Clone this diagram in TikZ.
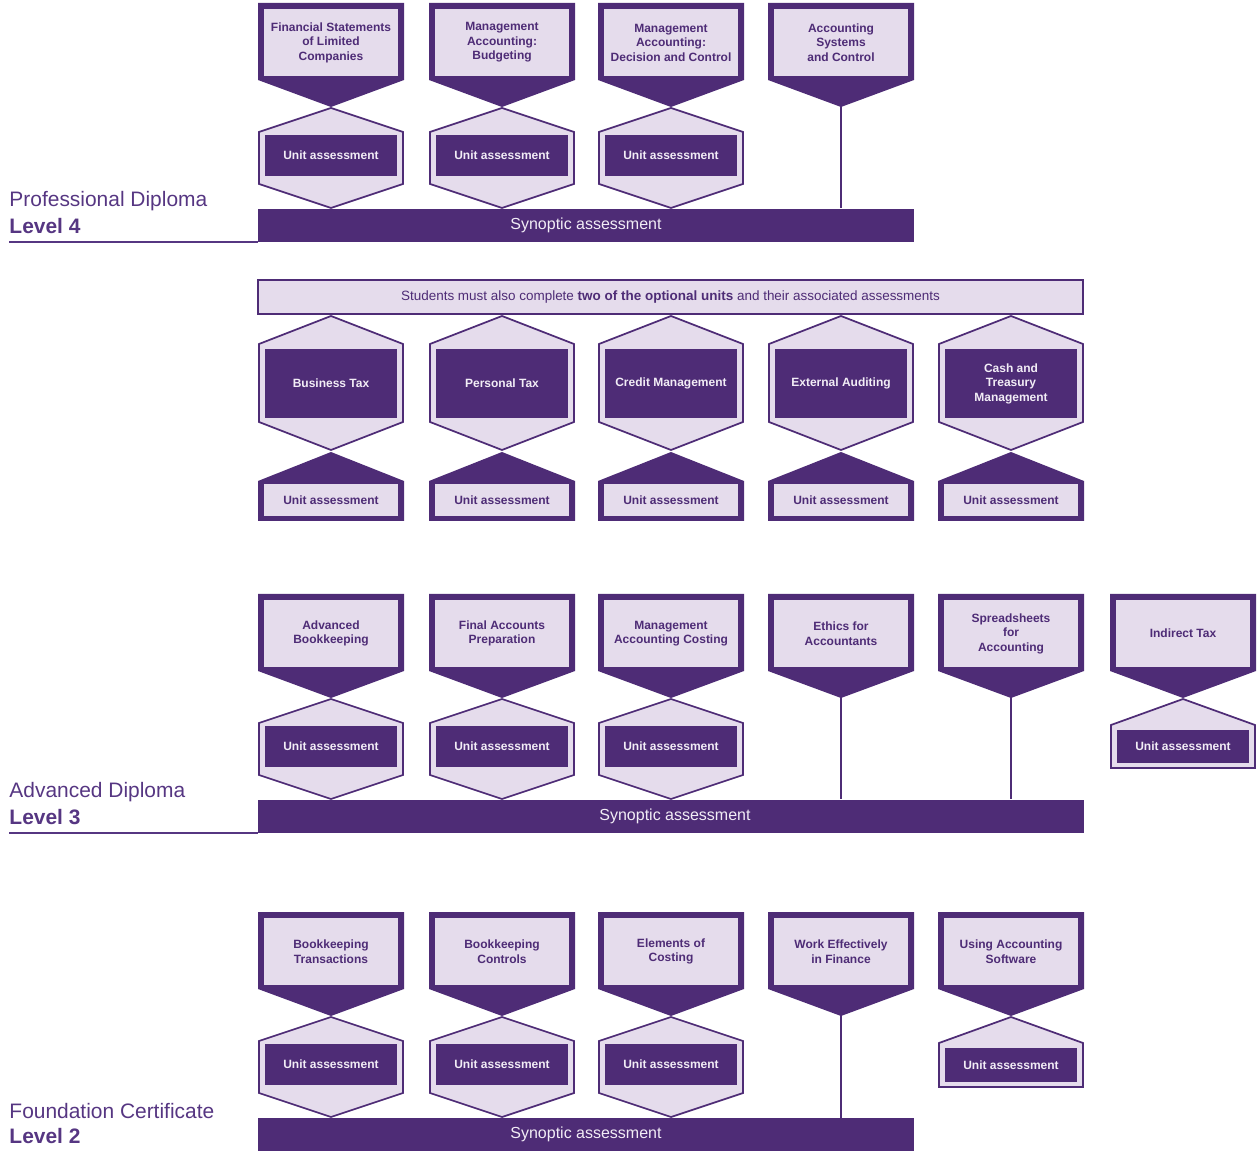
\documentclass[tikz,border=0pt]{standalone}
\usepackage{fontspec}
\setmainfont{Liberation Sans}

\definecolor{aatdark}{RGB}{78,44,118}
\definecolor{aatlight}{RGB}{229,220,236}
\definecolor{aattext}{RGB}{242,237,246}
\definecolor{aatlabel}{RGB}{86,54,130}

\tikzset{every picture/.style={line width=0.75pt},
  boxframe/.style={fill=aatdark, draw=none},
  hexframe/.style={fill=aatlight, draw=aatdark, line width=1.3pt, line join=miter},
  lightbox/.style={fill=aatlight, draw=none, inner sep=0pt, minimum width=100.5pt, minimum height=50.25pt, align=center, text=aatdark, font=\fontsize{9}{10.9}\selectfont\bfseries},
  darkbox/.style={fill=aatdark, draw=none, inner sep=0pt, minimum width=99pt, minimum height=30.75pt, align=center, text=aattext, font=\fontsize{9}{10.9}\selectfont\bfseries},
  synbar/.style={fill=aatdark, draw=none, inner sep=0pt, minimum height=24.75pt, text=aattext, font=\fontsize{12}{14}\selectfont},
  banner/.style={fill=aatlight, draw=aatdark, line width=1.3pt, inner sep=0pt, minimum width=618.75pt, minimum height=25.5pt, text=aatdark, font=\fontsize{10.1}{12}\selectfont},
  link/.style={draw=aatdark, line width=1.5pt},
  lvlname/.style={anchor=west, inner sep=0pt, text=aatlabel, font=\fontsize{15.7}{18}\selectfont},
  lvlnum/.style={anchor=west, inner sep=0pt, text=aatlabel, font=\fontsize{15.7}{18}\selectfont\bfseries},
  lvlline/.style={draw=aatlabel, line width=1.5pt}
}

\begin{document}
\begin{tikzpicture}[x=0.75pt,y=0.75pt,yscale=-1,xscale=1]
\useasboundingbox (0,0) rectangle (1258,1151);

%%%%%%%%%%%%%%%%%%%% Level 4
%Shape: Unit [fslc]
\draw [boxframe] (258,3) -- (404,3) -- (404,80) -- (331,107) -- (258,80) -- cycle ;
\draw (331,42.5) node [lightbox] (fslc) {Financial Statements\\of Limited\\Companies};
\draw [hexframe] (331,108) -- (403,132) -- (403,184) -- (331,208) -- (259,184) -- (259,132) -- cycle ;
\draw (331,155.5) node [darkbox] (ua fslc) {Unit assessment};
%Shape: Unit [mab]
\draw [boxframe] (429,3) -- (575,3) -- (575,80) -- (502,107) -- (429,80) -- cycle ;
\draw (502,42.5) node [lightbox] (mab) {Management\\Accounting:\\Budgeting};
\draw [hexframe] (502,108) -- (574,132) -- (574,184) -- (502,208) -- (430,184) -- (430,132) -- cycle ;
\draw (502,155.5) node [darkbox] (ua mab) {Unit assessment};
%Shape: Unit [madc]
\draw [boxframe] (598,3) -- (744,3) -- (744,80) -- (671,107) -- (598,80) -- cycle ;
\draw (671,42.5) node [lightbox] (madc) {Management\\Accounting:\\Decision and Control};
\draw [hexframe] (671,108) -- (743,132) -- (743,184) -- (671,208) -- (599,184) -- (599,132) -- cycle ;
\draw (671,155.5) node [darkbox] (ua madc) {Unit assessment};
%Shape: Unit [asc]
\draw [boxframe] (768,3) -- (914,3) -- (914,80) -- (841,107) -- (768,80) -- cycle ;
\draw (841,42.5) node [lightbox] (asc) {Accounting\\Systems\\and Control};

%Synoptic bar
\draw (586,225.5) node [synbar, minimum width=492pt] (syn4) {Synoptic assessment};
\draw [link] (asc.south) -- (asc.south |- syn4.north) ;

% Text Node
\draw (9,201) node [lvlname] (pd) {Professional Diploma};
% Text Node
\draw (9,226) node [lvlnum] (lv4) {Level 4};
\draw [lvlline] (pd.west |- syn4.south) -- (syn4.south west) ;

%%%%%%%%%%%%%%%%%%%% Optional units
\draw (670.5,297) node [banner] (opt) {Students must also complete \textbf{two of the optional units} and their associated assessments};
%Shape: Option [btx]
\draw [hexframe] (331,316) -- (403,344) -- (403,422) -- (331,450) -- (259,422) -- (259,344) -- cycle ;
\draw (331,383.5) node [darkbox, minimum height=51.75pt] (btx) {Business Tax};
\draw [boxframe] (331,452) -- (404,481) -- (404,521) -- (258,521) -- (258,481) -- cycle ;
\draw (331,500) node [lightbox, minimum height=24pt] (ua btx) {Unit assessment};
%Shape: Option [ptx]
\draw [hexframe] (502,316) -- (574,344) -- (574,422) -- (502,450) -- (430,422) -- (430,344) -- cycle ;
\draw (502,383.5) node [darkbox, minimum height=51.75pt] (ptx) {Personal Tax};
\draw [boxframe] (502,452) -- (575,481) -- (575,521) -- (429,521) -- (429,481) -- cycle ;
\draw (502,500) node [lightbox, minimum height=24pt] (ua ptx) {Unit assessment};
%Shape: Option [crm]
\draw [hexframe] (671,316) -- (743,344) -- (743,422) -- (671,450) -- (599,422) -- (599,344) -- cycle ;
\draw (671,383.5) node [darkbox, minimum height=51.75pt] (crm) {Credit Management};
\draw [boxframe] (671,452) -- (744,481) -- (744,521) -- (598,521) -- (598,481) -- cycle ;
\draw (671,500) node [lightbox, minimum height=24pt] (ua crm) {Unit assessment};
%Shape: Option [exa]
\draw [hexframe] (841,316) -- (913,344) -- (913,422) -- (841,450) -- (769,422) -- (769,344) -- cycle ;
\draw (841,383.5) node [darkbox, minimum height=51.75pt] (exa) {External Auditing};
\draw [boxframe] (841,452) -- (914,481) -- (914,521) -- (768,521) -- (768,481) -- cycle ;
\draw (841,500) node [lightbox, minimum height=24pt] (ua exa) {Unit assessment};
%Shape: Option [ctm]
\draw [hexframe] (1011,316) -- (1083,344) -- (1083,422) -- (1011,450) -- (939,422) -- (939,344) -- cycle ;
\draw (1011,383.5) node [darkbox, minimum height=51.75pt] (ctm) {Cash and\\Treasury\\Management};
\draw [boxframe] (1011,452) -- (1084,481) -- (1084,521) -- (938,521) -- (938,481) -- cycle ;
\draw (1011,500) node [lightbox, minimum height=24pt] (ua ctm) {Unit assessment};

%%%%%%%%%%%%%%%%%%%% Level 3
%Shape: Unit [abk]
\draw [boxframe] (258,594) -- (404,594) -- (404,671) -- (331,698) -- (258,671) -- cycle ;
\draw (331,633.5) node [lightbox] (abk) {Advanced\\Bookkeeping};
\draw [hexframe] (331,699) -- (403,723) -- (403,775) -- (331,799) -- (259,775) -- (259,723) -- cycle ;
\draw (331,746.5) node [darkbox] (ua abk) {Unit assessment};
%Shape: Unit [fap]
\draw [boxframe] (429,594) -- (575,594) -- (575,671) -- (502,698) -- (429,671) -- cycle ;
\draw (502,633.5) node [lightbox] (fap) {Final Accounts\\Preparation};
\draw [hexframe] (502,699) -- (574,723) -- (574,775) -- (502,799) -- (430,775) -- (430,723) -- cycle ;
\draw (502,746.5) node [darkbox] (ua fap) {Unit assessment};
%Shape: Unit [mac]
\draw [boxframe] (598,594) -- (744,594) -- (744,671) -- (671,698) -- (598,671) -- cycle ;
\draw (671,633.5) node [lightbox] (mac) {Management\\Accounting Costing};
\draw [hexframe] (671,699) -- (743,723) -- (743,775) -- (671,799) -- (599,775) -- (599,723) -- cycle ;
\draw (671,746.5) node [darkbox] (ua mac) {Unit assessment};
%Shape: Unit [efa]
\draw [boxframe] (768,594) -- (914,594) -- (914,671) -- (841,698) -- (768,671) -- cycle ;
\draw (841,633.5) node [lightbox] (efa) {Ethics for\\Accountants};
%Shape: Unit [sfa]
\draw [boxframe] (938,594) -- (1084,594) -- (1084,671) -- (1011,698) -- (938,671) -- cycle ;
\draw (1011,633.5) node [lightbox] (sfa) {Spreadsheets\\for\\Accounting};
%Shape: Unit [itx]
\draw [boxframe] (1110,594) -- (1256,594) -- (1256,671) -- (1183,698) -- (1110,671) -- cycle ;
\draw (1183,633.5) node [lightbox] (itx) {Indirect Tax};
\draw [hexframe] (1183,699) -- (1255,725) -- (1255,768) -- (1111,768) -- (1111,725) -- cycle ;
\draw (1183,746.5) node [darkbox, minimum height=24.75pt] (ua itx) {Unit assessment};

%Synoptic bar
\draw (671,816.5) node [synbar, minimum width=619.5pt] (syn3) {\hspace*{6pt}Synoptic assessment};
\draw [link] (efa.south) -- (efa.south |- syn3.north) ;
\draw [link] (sfa.south) -- (sfa.south |- syn3.north) ;

% Text Node
\draw (9,792) node [lvlname] (ad) {Advanced Diploma};
% Text Node
\draw (9,817) node [lvlnum] (lv3) {Level 3};
\draw [lvlline] (ad.west |- syn3.south) -- (syn3.south west) ;

%%%%%%%%%%%%%%%%%%%% Level 2
%Shape: Unit [bkt]
\draw [boxframe] (258,912) -- (404,912) -- (404,989) -- (331,1016) -- (258,989) -- cycle ;
\draw (331,951.5) node [lightbox] (bkt) {Bookkeeping\\Transactions};
\draw [hexframe] (331,1017) -- (403,1041) -- (403,1093) -- (331,1117) -- (259,1093) -- (259,1041) -- cycle ;
\draw (331,1064.5) node [darkbox] (ua bkt) {Unit assessment};
%Shape: Unit [bkc]
\draw [boxframe] (429,912) -- (575,912) -- (575,989) -- (502,1016) -- (429,989) -- cycle ;
\draw (502,951.5) node [lightbox] (bkc) {Bookkeeping\\Controls};
\draw [hexframe] (502,1017) -- (574,1041) -- (574,1093) -- (502,1117) -- (430,1093) -- (430,1041) -- cycle ;
\draw (502,1064.5) node [darkbox] (ua bkc) {Unit assessment};
%Shape: Unit [eoc]
\draw [boxframe] (598,912) -- (744,912) -- (744,989) -- (671,1016) -- (598,989) -- cycle ;
\draw (671,951.5) node [lightbox] (eoc) {Elements of\\Costing};
\draw [hexframe] (671,1017) -- (743,1041) -- (743,1093) -- (671,1117) -- (599,1093) -- (599,1041) -- cycle ;
\draw (671,1064.5) node [darkbox] (ua eoc) {Unit assessment};
%Shape: Unit [wef]
\draw [boxframe] (768,912) -- (914,912) -- (914,989) -- (841,1016) -- (768,989) -- cycle ;
\draw (841,951.5) node [lightbox] (wef) {Work Effectively\\in Finance};
%Shape: Unit [uas]
\draw [boxframe] (938,912) -- (1084,912) -- (1084,989) -- (1011,1016) -- (938,989) -- cycle ;
\draw (1011,951.5) node [lightbox] (uas) {Using Accounting\\Software};
\draw [hexframe] (1011,1017) -- (1083,1043) -- (1083,1087) -- (939,1087) -- (939,1043) -- cycle ;
\draw (1011,1065) node [darkbox, minimum height=25.5pt] (ua uas) {Unit assessment};

%Synoptic bar
\draw (586,1134.5) node [synbar, minimum width=492pt] (syn2) {Synoptic assessment};
\draw [link] (wef.south) -- (wef.south |- syn2.north) ;

% Text Node
\draw (9,1111) node [lvlname] (fc) {Foundation Certificate};
% Text Node
\draw (9,1136) node [lvlnum] (lv2) {Level 2};

\end{tikzpicture}
\end{document}
